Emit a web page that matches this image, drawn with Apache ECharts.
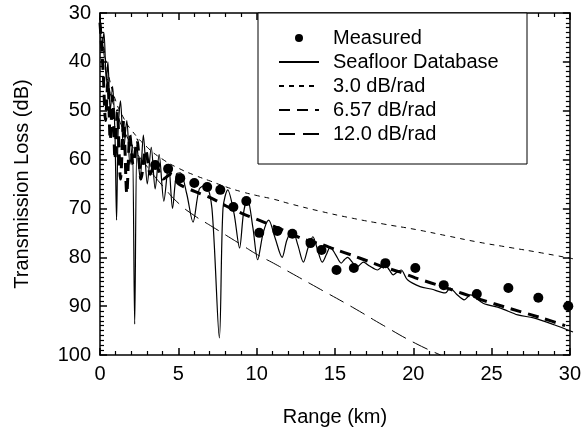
<!DOCTYPE html>
<html lang="en">
    <head>
        <title>Transmission Loss</title>
        <meta charset="utf-8">
        <script src='https://cdn.jsdelivr.net/npm/echarts@6/dist/echarts.min.js'></script>
    </head>

    <style>
        html, body, #main {
            width: 100%;
            height: 100%;
            margin: 0;
            background: #fff;
        }
    </style>

    <body>
        <div id='main'></div>

        <script>
            // range (km), transmission loss (dB)
            const measured = [
                [3.5, 61.1], [4.32, 61.9], [5.09, 63.8], [5.98, 64.8], [6.8, 65.6],
                [7.63, 66.2], [8.46, 69.7], [9.28, 68.5], [10.1, 75.0], [11.25, 74.6],
                [12.2, 75.2], [13.35, 77.1], [14.05, 78.5], [15.0, 82.6], [16.1, 82.2],
                [18.1, 81.2], [20.0, 82.2], [21.8, 85.7], [23.9, 87.5], [25.9, 86.3],
                [27.8, 88.3], [29.7, 90.0]
            ];

            const seafloor = [
                [0, 30.5], [0.12, 37], [0.25, 34], [0.4, 44], [0.5, 40], [0.65, 50], [0.8, 45],
                [0.95, 55], [1.05, 72.4], [1.15, 54], [1.3, 48], [1.5, 58], [1.7, 52], [1.9, 61],
                [2.05, 57], [2.2, 93.7], [2.35, 57], [2.55, 64], [2.75, 55], [3.0, 65], [3.25, 57.5],
                [3.5, 66], [3.75, 59], [4.05, 68.5], [4.35, 61], [4.6, 70], [4.85, 63], [5.1, 62.7],
                [5.5, 67], [5.9, 72.8], [6.3, 66], [6.7, 65.2], [7.1, 70], [7.57, 96.5], [7.8, 70],
                [8.1, 66.2], [8.5, 71], [8.85, 78.1], [9.1, 71], [9.35, 67.9], [9.7, 74], [10.0, 80.5],
                [10.35, 75], [10.7, 72.4], [11.1, 76], [11.55, 80], [11.85, 76.5], [12.2, 74.4],
                [12.55, 77.5], [12.9, 81], [13.2, 78], [13.5, 75.8], [13.8, 78.5], [14.1, 81],
                [14.35, 79.5], [14.6, 77.9], [14.95, 79.5], [15.3, 81.2], [15.5, 80.5], [15.7, 80],
                [16.0, 81], [16.3, 82], [16.5, 81.5], [16.7, 81], [17.1, 81.8], [17.6, 82.6],
                [17.85, 82], [18.1, 81.6], [18.35, 82.6], [18.6, 83.6], [18.85, 83], [19.1, 82.6],
                [19.5, 84.6], [20.3, 86], [21.0, 86.5], [21.9, 87.3], [22.2, 86.3], [22.6, 87.5],
                [23.1, 88.7], [23.5, 87.7], [24.3, 89.4], [25.4, 90.4], [26.5, 91.8], [27.5, 92.4],
                [28.8, 93.8], [30, 95.3]
            ];

            const rad3 = [
                [0, 31], [0.2, 36], [0.5, 42], [1, 48], [1.5, 51.5], [2, 54], [3, 57.5], [4, 60],
                [5, 61.8], [6, 63.2], [7, 64.4], [8, 65.6], [9, 66.6], [10, 67.4], [11, 68.1],
                [12, 69], [14, 70.6], [16, 72], [18, 73.2], [20, 74.3], [22, 75.6], [24, 76.9],
                [26, 78], [28, 79.1], [30, 80.3]
            ];

            const rad657 = [
                [0, 32], [0.2, 42], [0.35, 52], [0.5, 44], [0.65, 56], [0.8, 47], [0.95, 60],
                [1.1, 50], [1.3, 64], [1.5, 52], [1.7, 67], [1.9, 55], [2.1, 61], [2.35, 56],
                [2.6, 64], [2.9, 58], [3.2, 63], [3.5, 60.5], [4, 64], [4.5, 63], [5, 65],
                [6, 66.5], [7, 67.8], [8, 69.5], [9, 71], [10, 72.3], [11, 73.6], [12, 75],
                [13, 76.4], [14, 77.3], [15, 78.5], [16, 79.6], [17, 80.8], [18, 82], [19, 83],
                [20, 84.2], [22, 86.3], [24, 88.5], [26, 90.5], [28, 92.4], [29.5, 94]
            ];

            const rad12 = [
                [0, 31], [0.2, 37], [0.5, 44], [1, 50], [2, 57], [3, 61.5], [4, 65.5], [5, 69],
                [6, 71.5], [7, 73.5], [8, 75.5], [9, 77.5], [10, 79.5], [11, 81.2], [12, 83],
                [14, 86.6], [16, 90.2], [18, 94], [20, 97.6], [21.6, 100]
            ];

            const names = ['Measured', 'Seafloor Database', '3.0 dB/rad', '6.57 dB/rad', '12.0 dB/rad'];

            const font = "'Liberation Sans', Arial, sans-serif";

            // axes of the frame live in their own grid, on top of the data grid
            const frameAxis = (extra, minorSplit) => Object.assign({
                type: 'value',
                gridIndex: 1,
                axisLine: { show: true, onZero: false, lineStyle: { color: '#000', width: 1.5 } },
                axisTick: { show: true, inside: true, length: 7, lineStyle: { color: '#000', width: 1.5 } },
                minorTick: { show: true, splitNumber: minorSplit, length: 4, lineStyle: { color: '#000', width: 1.2 } },
                splitLine: { show: false },
                minorSplitLine: { show: false },
                axisLabel: { color: '#000', fontSize: 20, fontFamily: font, margin: 9 },
                nameTextStyle: { color: '#000', fontSize: 20, fontFamily: font },
                nameLocation: 'middle'
            }, extra);

            const chart = echarts.init(document.getElementById('main'));

            const option = {
                animation: false,
                backgroundColor: '#fff',
                grid: [
                    { left: 100, right: 11, top: 13, bottom: 80 },
                    { left: 100, right: 11, top: 13, bottom: 80 }
                ],
                xAxis: [
                    { type: 'value', gridIndex: 0, min: 0, max: 30, show: false },
                    frameAxis({ position: 'bottom', min: 0, max: 30, interval: 5,
                        name: 'Range (km)', nameGap: 52 }, 5),
                    frameAxis({ position: 'top', min: 0, max: 30, interval: 5,
                        axisLabel: { show: false } }, 5)
                ],
                yAxis: [
                    { type: 'value', gridIndex: 0, min: 30, max: 100, inverse: true, show: false },
                    frameAxis({ position: 'left', min: 30, max: 100, interval: 10, inverse: true,
                        name: 'Transmission Loss (dB)', nameGap: 68 }, 10),
                    frameAxis({ position: 'right', min: 30, max: 100, interval: 10, inverse: true,
                        axisLabel: { show: false } }, 10)
                ],
                legend: {
                    orient: 'vertical',
                    left: 278,
                    top: 26,
                    padding: 0,
                    itemGap: 0,
                    itemWidth: 40,
                    itemHeight: 8,
                    z: 20,
                    data: [
                        { name: names[0] },
                        { name: names[1], itemStyle: { opacity: 0 } },
                        { name: names[2], itemStyle: { opacity: 0 } },
                        { name: names[3], itemStyle: { opacity: 0 } },
                        { name: names[4], itemStyle: { opacity: 0 } }
                    ],
                    textStyle: { color: '#000', fontSize: 20, fontFamily: font, lineHeight: 24, padding: [0, 0, 0, 9] }
                },
                graphic: [{
                    type: 'rect',
                    shape: { x: 258, y: 13, width: 269, height: 151 },
                    style: { fill: '#fff', stroke: '#000', lineWidth: 1 },
                    z: 10
                }],
                series: [
                    {
                        name: names[1], type: 'line', data: seafloor, showSymbol: false, symbol: 'none',
                        itemStyle: { color: '#000' },
                        lineStyle: { color: '#000', width: 1.2 }, smooth: 0.3, z: 3
                    },
                    {
                        name: names[2], type: 'line', data: rad3, showSymbol: false, symbol: 'none',
                        itemStyle: { color: '#000' },
                        lineStyle: { color: '#000', width: 1, type: [5, 5] }, smooth: true, z: 3
                    },
                    {
                        name: names[3], type: 'line', data: rad657, showSymbol: false, symbol: 'none',
                        itemStyle: { color: '#000' },
                        lineStyle: { color: '#000', width: 3, type: [11, 7] }, smooth: 0.3, z: 3
                    },
                    {
                        name: names[4], type: 'line', data: rad12, showSymbol: false, symbol: 'none',
                        itemStyle: { color: '#000' },
                        lineStyle: { color: '#000', width: 1, type: [16, 8] }, smooth: true, z: 3
                    },
                    {
                        name: names[0], type: 'scatter', data: measured, symbol: 'circle', symbolSize: 10,
                        itemStyle: { color: '#000', opacity: 1 }, z: 4
                    }
                ]
            };

            chart.setOption(option);

            window.onresize = function () {
                chart.resize();
            }
        </script>
    </body>
</html>
